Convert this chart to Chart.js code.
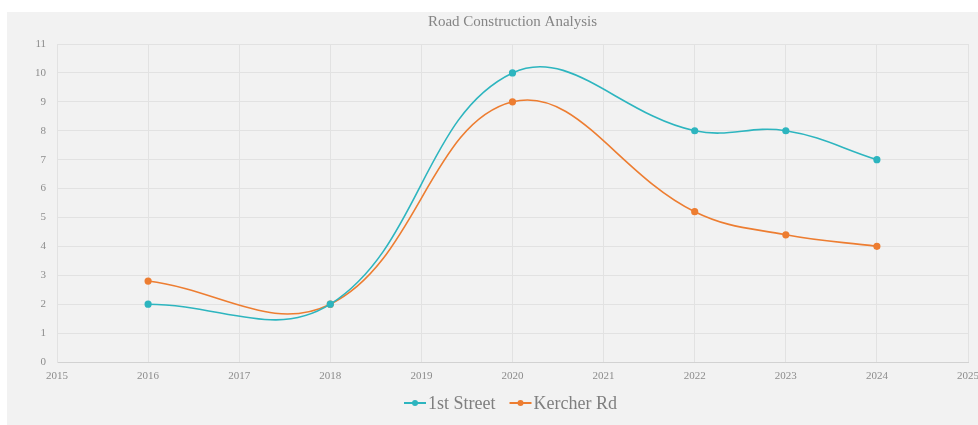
<!DOCTYPE html>
<html>
<head>
<meta charset="utf-8">
<script src="https://cdn.jsdelivr.net/npm/chart.js@4.4.1/dist/chart.umd.min.js"></script>
<style>
  html, body { margin: 0; padding: 0; background: #fff; }
  body { width: 978px; height: 425px; position: relative; overflow: hidden; }
  #cut { position: absolute; left: 0; top: 0; width: 978px; height: 12px; overflow: hidden; }
  #cut span { position: absolute; top: -26px; font: 22px "DejaVu Sans"; color: #111; }
  #box { position: absolute; left: 7px; top: 12px; width: 971px; height: 413px; background: #f2f2f2; }
</style>
</head>
<body>
<div id="cut"><span style="left:413px">(</span><span style="left:781px">)</span></div>
<div id="box"><canvas id="roads" width="971" height="413"></canvas></div>
<script>
// data
var years = [2016, 2018, 2020, 2022, 2023, 2024]
var firstStreet = [2, 2, 10, 8, 8, 7]
var kercherRd = [2.8, 2, 9, 5.2, 4.4, 4]
var seriesNames = ['1st Street', 'Kercher Rd']
var chartTitle = 'Road Construction Analysis'

var teal = '#2db5bf'
var orange = '#ed7d31'
var serif = '"Liberation Serif", "Times New Roman", serif'

function pts(vals) {
    return years.map(function (y, i) { return {x: y, y: vals[i]} })
}

// title + legend drawn centred over the plot area (like Excel)
const titleLegend = {
    id: 'titleLegend',
    afterDraw(chart) {
        var c = chart.ctx, a = chart.chartArea
        var mid = (a.left + a.right) / 2
        c.save()
        c.fillStyle = '#858585'
        c.font = '15px ' + serif
        c.textAlign = 'center'
        c.textBaseline = 'middle'
        c.fillText(chartTitle, mid, 10)

        c.font = '18px ' + serif
        c.textAlign = 'left'
        var iconW = 22, gap = 2, space = 14
        var widths = chart.data.datasets.map(function (d) { return iconW + gap + c.measureText(d.label).width })
        var total = widths[0] + widths[1] + space
        var x = mid - total / 2 - 2
        var y = 391
        chart.data.datasets.forEach(function (d, i) {
            c.strokeStyle = d.borderColor
            c.lineWidth = 2
            c.beginPath(); c.moveTo(x, y); c.lineTo(x + iconW, y); c.stroke()
            c.fillStyle = d.borderColor
            c.beginPath(); c.arc(x + iconW / 2, y, 3, 0, Math.PI * 2); c.fill()
            c.fillStyle = '#7f7f7f'
            c.fillText(d.label, x + iconW + gap, y + 1)
            x += widths[i] + space
        })
        c.restore()
    }
}

var ctx = document.getElementById('roads').getContext('2d')
const roads = new Chart(ctx, {
    type: 'scatter',
    data: {
        datasets: [{
            label: seriesNames[0],
            data: pts(firstStreet),
            showLine: true,
            borderColor: teal,
            backgroundColor: teal,
            borderWidth: 1.6,
            pointRadius: 2.8,
            tension: 0.4
        }, {
            label: seriesNames[1],
            data: pts(kercherRd),
            showLine: true,
            borderColor: orange,
            backgroundColor: orange,
            borderWidth: 1.6,
            pointRadius: 2.8,
            tension: 0.4
        }]
    },
    options: {
        responsive: false,
        animation: false,
        layout: { padding: { top: 32, right: 10, left: 0, bottom: 0 } },
        plugins: { legend: { display: false }, title: { display: false }, tooltip: { enabled: false } },
        scales: {
            x: {
                type: 'linear', min: 2015, max: 2025,
                afterFit: function (s) { s.height = 63; s.paddingLeft = 0; s.paddingRight = 0 },
                ticks: { stepSize: 1, padding: 8, color: '#8c8c8c', font: { family: serif, size: 11 },
                    callback: function (v) { return String(v) } },
                grid: { color: '#e2e2e2', drawTicks: false },
                border: { color: '#d2d2d2' }
            },
            y: {
                min: 0, max: 11,
                afterFit: function (s) { s.width = 50 },
                ticks: { stepSize: 1, padding: 11, color: '#8c8c8c', font: { family: serif, size: 11 } },
                grid: { color: '#e2e2e2', drawTicks: false },
                border: { color: '#e2e2e2' }
            }
        }
    },
    plugins: [titleLegend]
});
</script>
</body>
</html>
